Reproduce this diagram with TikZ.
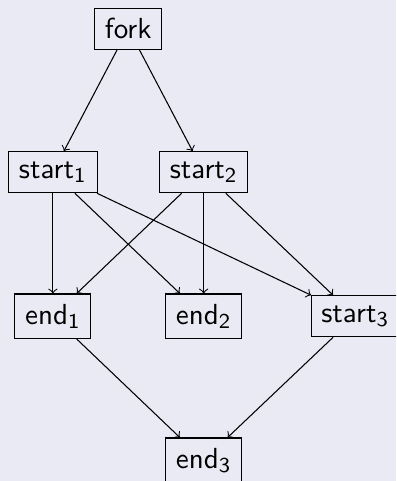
\documentclass[tikz,border=0pt]{standalone}
\usepackage{tikz}

\definecolor{canvas}{RGB}{234,234,245}

\begin{document}
\begin{tikzpicture}[
    task/.style = {rectangle, draw=black, text centered, inner xsep=3.9pt,
minimum height=15.5pt, font=\sffamily\fontsize{10.95}{13.6}\selectfont},
    done/.style = {task, minimum height=16.8pt},
node distance=2cm
]

  % frame of the slide, cut on the right and at the bottom
  \fill[canvas] (-0.701,-4.095) rectangle (4.551,2.284);
  \useasboundingbox (-0.701,-4.095) rectangle (4.551,2.284);
  \clip (-0.701,-4.095) rectangle (4.551,2.284);

  \node (start1) [task] {start$_{\mathsf{1}}$};
  \node (start2) [task, right of=start1] {start$_{\mathsf{2}}$};
  \node (fork)   [task, above of=start1, xshift=1cm, yshift=-0.095cm] {fork};
  \node (end1)   [done, below of=start1, yshift=0.09cm] {end$_{\mathsf{1}}$};
  \node (end2)   [done, below of=start2, yshift=0.09cm] {end$_{\mathsf{2}}$};
  \node (start3) [task, right of=end2, xshift=0.01cm] {start$_{\mathsf{3}}$};
  \node (end3)   [done, below of=end2, yshift=0.09cm] {end$_{\mathsf{3}}$};

  \draw[->]     (fork) -- (start1);
  \draw[->]     (fork) -- (start2);

  \draw[->]     (start1) -- (end1);
  \draw[->]     (start1) -- (end2);
  \draw[->]     (start1) -- (start3);
  \draw[->]     (start2) -- (end1);
  \draw[->]     (start2) -- (end2);
  \draw[->]     (start2) -- (start3);

  \draw[->]     (end1) -- (end3);
  \draw[->]     (start3) -- (end3);

\end{tikzpicture}
\end{document}
